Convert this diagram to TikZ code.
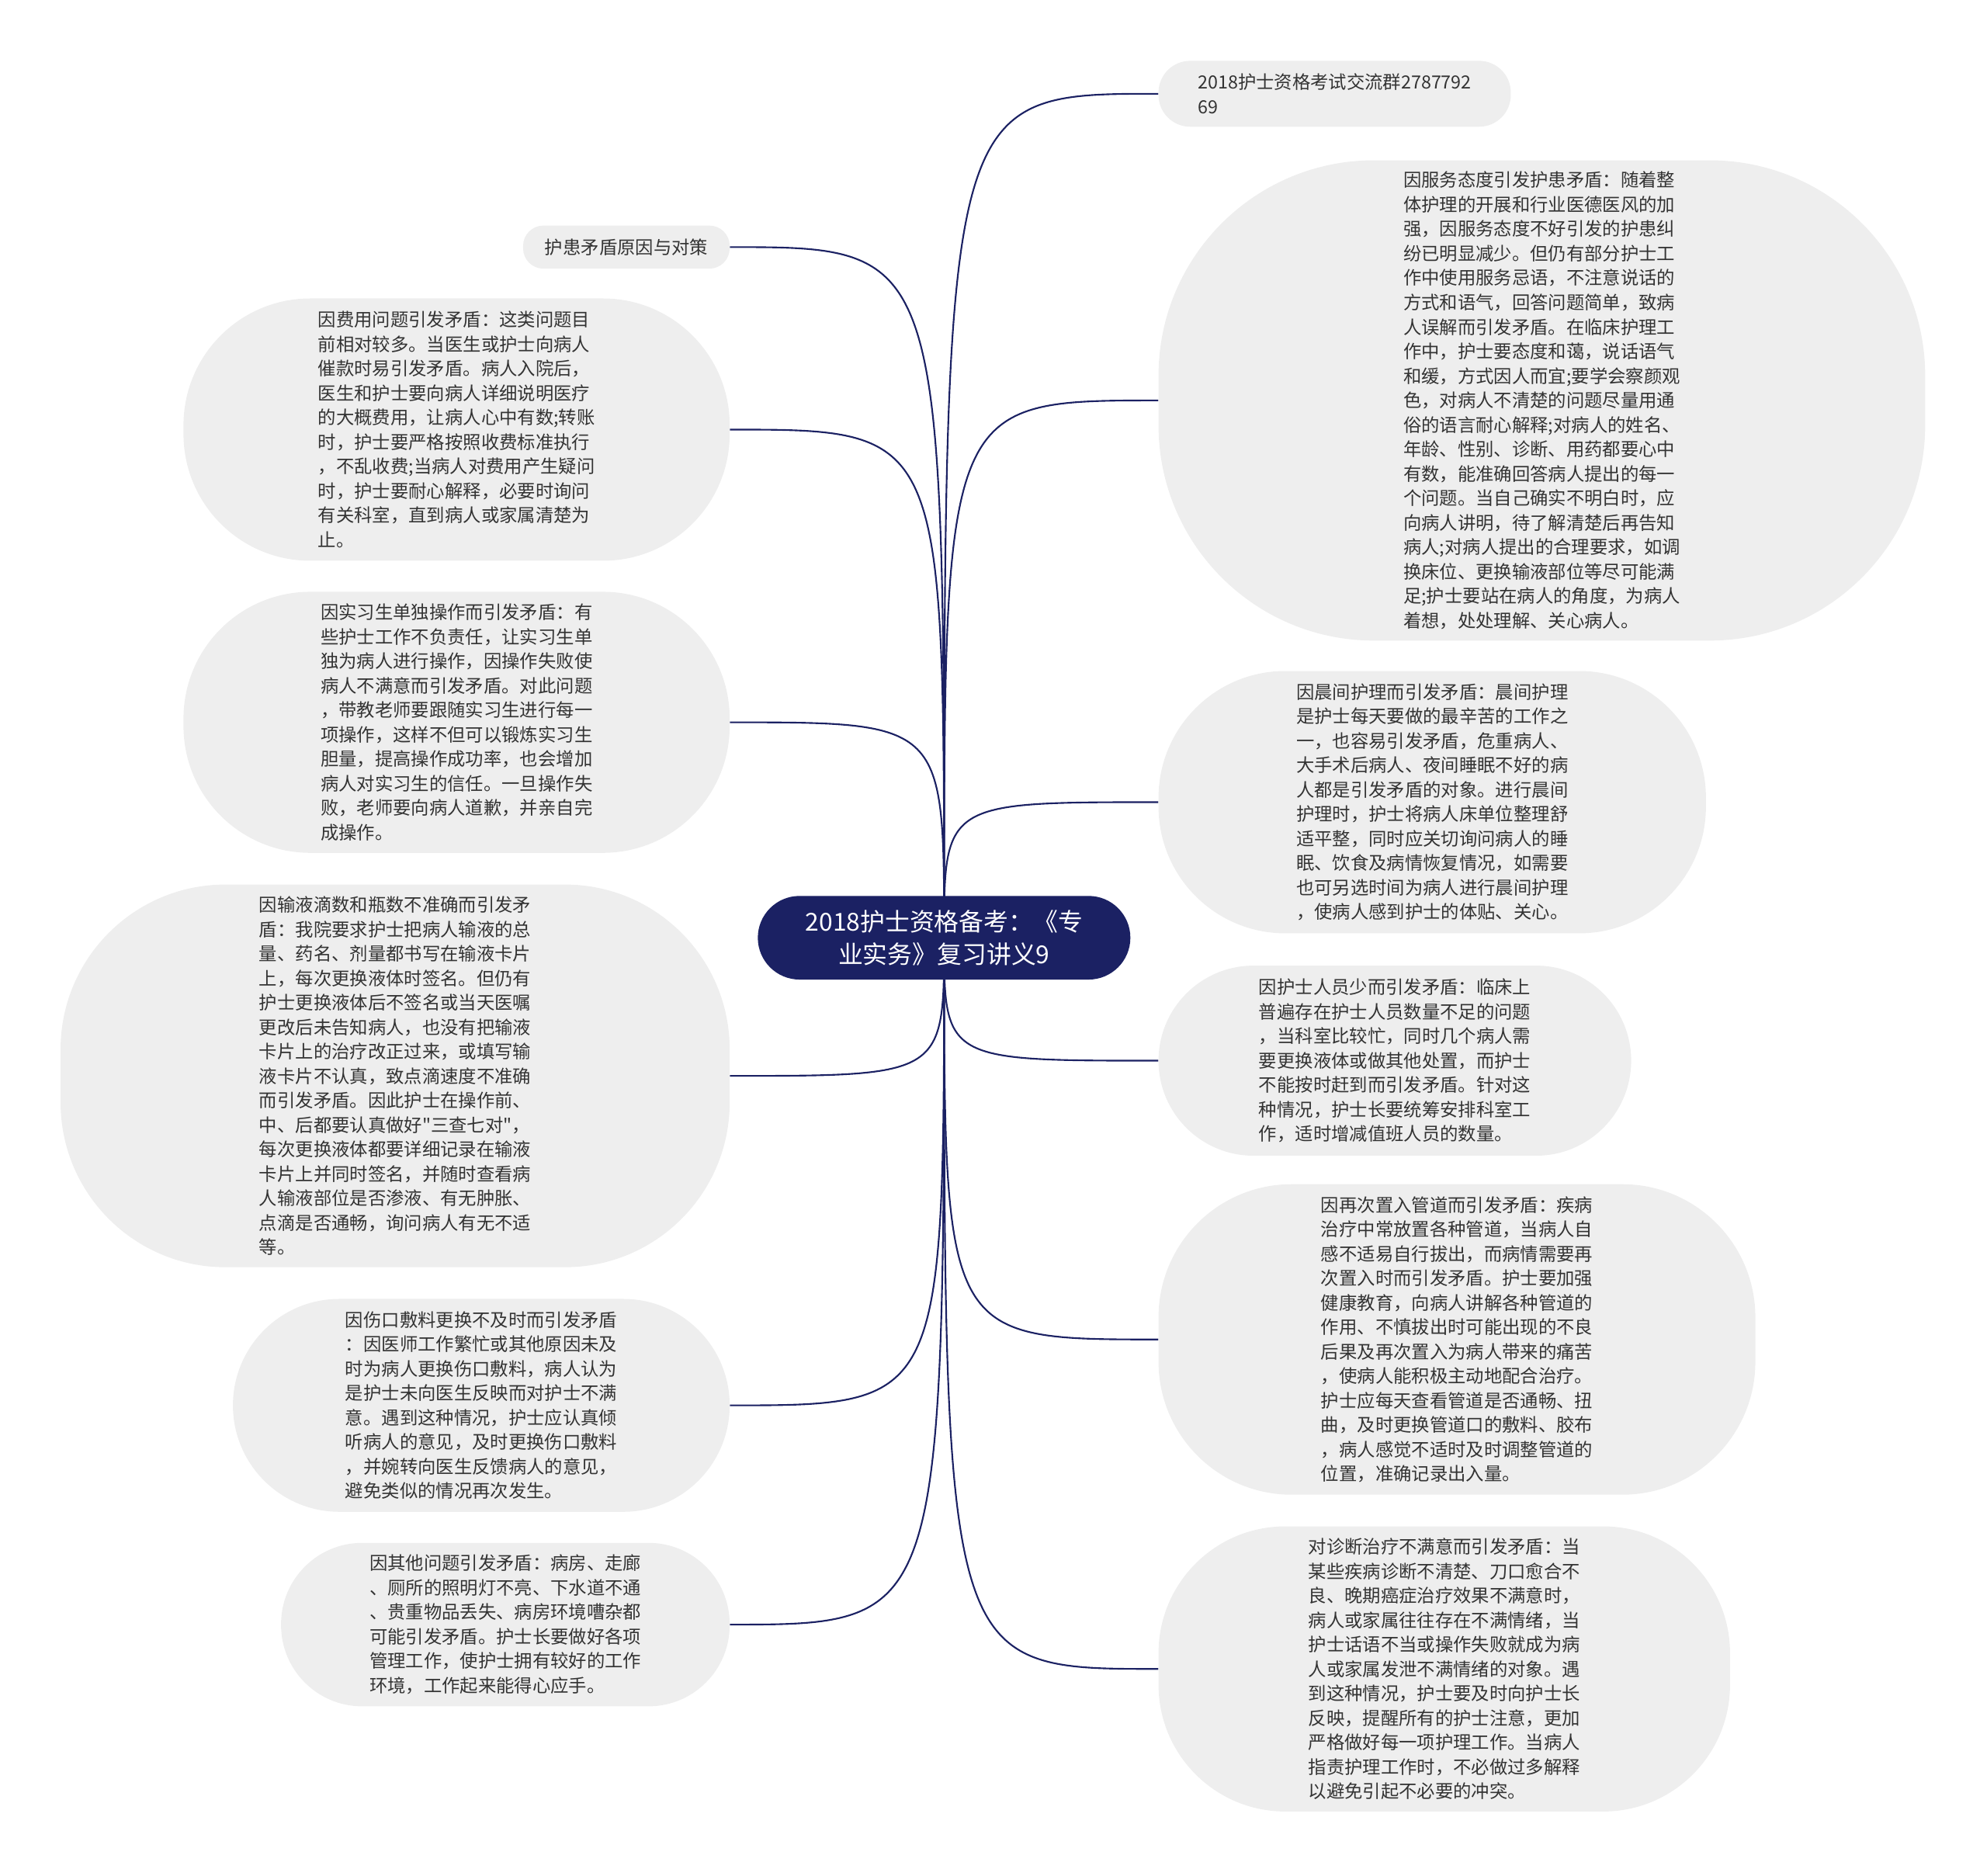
\documentclass[tikz,border=0pt]{standalone}
\usepackage{fontspec}
\setmainfont[Ligatures=TeXOff]{Noto Sans CJK SC}
\usepackage{xcolor}
\usepackage{tikz}
\usetikzlibrary{backgrounds}

\definecolor{hubblue}{RGB}{27,33,99}
\definecolor{leafgray}{RGB}{238,238,238}
\definecolor{leaftext}{RGB}{51,51,51}

\begin{document}
\begin{tikzpicture}[
  x=1pt, y=-1pt,
  font=\fontsize{14.3pt}{19.3pt}\selectfont,
  hub/.style={fill=hubblue,text=white,rounded corners=33pt,minimum width=294pt,minimum height=66pt,align=center,inner sep=0pt,font=\fontsize{19.5pt}{26pt}\selectfont},
  leaf/.style n args={3}{fill=leafgray,text=leaftext,minimum width=#1,minimum height=#2,rounded corners=#3,align=left,inner sep=0pt},
  link/.style={draw=hubblue,line width=1.3pt},
]
\useasboundingbox (0,0) rectangle (1568,1480);

\node[hub] (hub) at (745,740) {2018护士资格备考：《专\\业实务》复习讲义9};

% right side
\node[leaf={278pt}{52pt}{25pt}, anchor=west] (group) at (914,74) {2018护士资格考试交流群2787792\\69};
\node[leaf={605pt}{379pt}{170pt}, anchor=west] (attitude) at (914,316) {因服务态度引发护患矛盾：随着整\\体护理的开展和行业医德医风的加\\强，因服务态度不好引发的护患纠\\纷已明显减少。但仍有部分护士工\\作中使用服务忌语，不注意说话的\\方式和语气，回答问题简单，致病\\人误解而引发矛盾。在临床护理工\\作中，护士要态度和蔼，说话语气\\和缓，方式因人而宜;要学会察颜观\\色，对病人不清楚的问题尽量用通\\俗的语言耐心解释;对病人的姓名、\\年龄、性别、诊断、用药都要心中\\有数，能准确回答病人提出的每一\\个问题。当自己确实不明白时，应\\向病人讲明，待了解清楚后再告知\\病人;对病人提出的合理要求，如调\\换床位、更换输液部位等尽可能满\\足;护士要站在病人的角度，为病人\\着想，处处理解、关心病人。};
\node[leaf={432pt}{207pt}{100pt}, anchor=west] (morning) at (914,633) {因晨间护理而引发矛盾：晨间护理\\是护士每天要做的最辛苦的工作之\\一，也容易引发矛盾，危重病人、\\大手术后病人、夜间睡眠不好的病\\人都是引发矛盾的对象。进行晨间\\护理时，护士将病人床单位整理舒\\适平整，同时应关切询问病人的睡\\眠、饮食及病情恢复情况，如需要\\也可另选时间为病人进行晨间护理\\，使病人感到护士的体贴、关心。};
\node[leaf={373pt}{150pt}{75pt}, anchor=west] (staff) at (914,837) {因护士人员少而引发矛盾：临床上\\普遍存在护士人员数量不足的问题\\，当科室比较忙，同时几个病人需\\要更换液体或做其他处置，而护士\\不能按时赶到而引发矛盾。针对这\\种情况，护士长要统筹安排科室工\\作，适时增减值班人员的数量。};
\node[leaf={471pt}{245pt}{105pt}, anchor=west] (tube) at (914,1057) {因再次置入管道而引发矛盾：疾病\\治疗中常放置各种管道，当病人自\\感不适易自行拔出，而病情需要再\\次置入时而引发矛盾。护士要加强\\健康教育，向病人讲解各种管道的\\作用、不慎拔出时可能出现的不良\\后果及再次置入为病人带来的痛苦\\，使病人能积极主动地配合治疗。\\护士应每天查看管道是否通畅、扭\\曲，及时更换管道口的敷料、胶布\\，病人感觉不适时及时调整管道的\\位置，准确记录出入量。};
\node[leaf={451pt}{225pt}{100pt}, anchor=west] (diagnosis) at (914,1317) {对诊断治疗不满意而引发矛盾：当\\某些疾病诊断不清楚、刀口愈合不\\良、晚期癌症治疗效果不满意时，\\病人或家属往往存在不满情绪，当\\护士话语不当或操作失败就成为病\\人或家属发泄不满情绪的对象。遇\\到这种情况，护士要及时向护士长\\反映，提醒所有的护士注意，更加\\严格做好每一项护理工作。当病人\\指责护理工作时，不必做过多解释\\以避免引起不必要的冲突。};

% left side
\node[leaf={163pt}{34pt}{16pt}, anchor=east] (title) at (576,195) {护患矛盾原因与对策};
\node[leaf={431pt}{207pt}{100pt}, anchor=east] (fee) at (576,339) {因费用问题引发矛盾：这类问题目\\前相对较多。当医生或护士向病人\\催款时易引发矛盾。病人入院后，\\医生和护士要向病人详细说明医疗\\的大概费用，让病人心中有数;转账\\时，护士要严格按照收费标准执行\\，不乱收费;当病人对费用产生疑问\\时，护士要耐心解释，必要时询问\\有关科室，直到病人或家属清楚为\\止。};
\node[leaf={431pt}{206pt}{100pt}, anchor=east] (intern) at (576,570) {因实习生单独操作而引发矛盾：有\\些护士工作不负责任，让实习生单\\独为病人进行操作，因操作失败使\\病人不满意而引发矛盾。对此问题\\，带教老师要跟随实习生进行每一\\项操作，这样不但可以锻炼实习生\\胆量，提高操作成功率，也会增加\\病人对实习生的信任。一旦操作失\\败，老师要向病人道歉，并亲自完\\成操作。};
\node[leaf={528pt}{302pt}{130pt}, anchor=east] (infusion) at (576,849) {因输液滴数和瓶数不准确而引发矛\\盾：我院要求护士把病人输液的总\\量、药名、剂量都书写在输液卡片\\上，每次更换液体时签名。但仍有\\护士更换液体后不签名或当天医嘱\\更改后未告知病人，也没有把输液\\卡片上的治疗改正过来，或填写输\\液卡片不认真，致点滴速度不准确\\而引发矛盾。因此护士在操作前、\\中、后都要认真做好"三查七对"，\\每次更换液体都要详细记录在输液\\卡片上并同时签名，并随时查看病\\人输液部位是否渗液、有无肿胀、\\点滴是否通畅，询问病人有无不适\\等。};
\node[leaf={392pt}{168pt}{84pt}, anchor=east] (wound) at (576,1109) {因伤口敷料更换不及时而引发矛盾\\：因医师工作繁忙或其他原因未及\\时为病人更换伤口敷料，病人认为\\是护士未向医生反映而对护士不满\\意。遇到这种情况，护士应认真倾\\听病人的意见，及时更换伤口敷料\\，并婉转向医生反馈病人的意见，\\避免类似的情况再次发生。};
\node[leaf={354pt}{129pt}{64pt}, anchor=east] (other) at (576,1282) {因其他问题引发矛盾：病房、走廊\\、厕所的照明灯不亮、下水道不通\\、贵重物品丢失、病房环境嘈杂都\\可能引发矛盾。护士长要做好各项\\管理工作，使护士拥有较好的工作\\环境，工作起来能得心应手。};

\begin{scope}[on background layer]
\draw[link] (hub.center) .. controls (hub.center |- group.west) .. (group.west);
\draw[link] (hub.center) .. controls (hub.center |- attitude.west) .. (attitude.west);
\draw[link] (hub.center) .. controls (hub.center |- morning.west) .. (morning.west);
\draw[link] (hub.center) .. controls (hub.center |- staff.west) .. (staff.west);
\draw[link] (hub.center) .. controls (hub.center |- tube.west) .. (tube.west);
\draw[link] (hub.center) .. controls (hub.center |- diagnosis.west) .. (diagnosis.west);
\draw[link] (hub.center) .. controls (hub.center |- title.east) .. (title.east);
\draw[link] (hub.center) .. controls (hub.center |- fee.east) .. (fee.east);
\draw[link] (hub.center) .. controls (hub.center |- intern.east) .. (intern.east);
\draw[link] (hub.center) .. controls (hub.center |- infusion.east) .. (infusion.east);
\draw[link] (hub.center) .. controls (hub.center |- wound.east) .. (wound.east);
\draw[link] (hub.center) .. controls (hub.center |- other.east) .. (other.east);
\end{scope}
\end{tikzpicture}
\end{document}
